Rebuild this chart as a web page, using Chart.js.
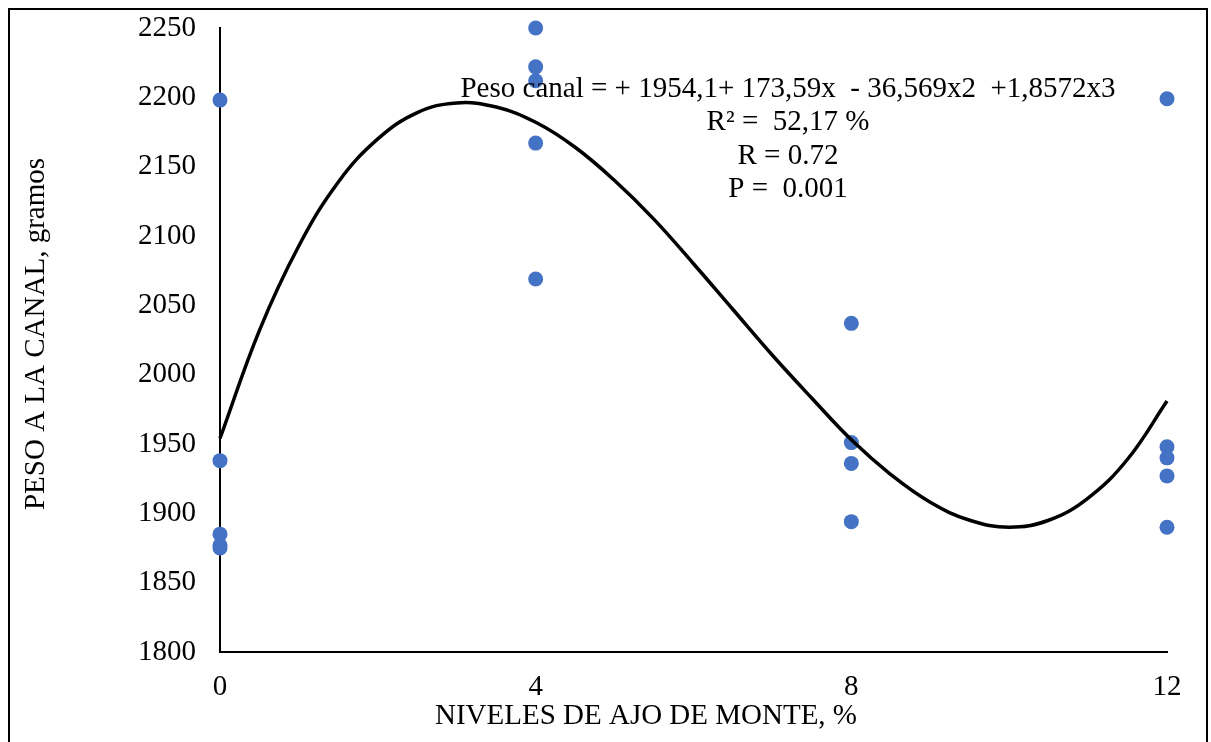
<!DOCTYPE html>
<html>
<head>
<meta charset="utf-8">
<script src="https://cdn.jsdelivr.net/npm/chart.js@4"></script>
<style>
  html, body { margin: 0; padding: 0; background: #fff; }
  #wrap { width: 1211px; height: 742px; position: relative; }
</style>
</head>
<body>
<div id="wrap"><canvas id="c" width="1211" height="742"></canvas></div>
<script>
// Observed values (x = nivel de ajo de monte, %; y = peso a la canal, g)
const obsX = [0, 0, 0, 0, 0, 4, 4, 4, 4, 4, 8, 8, 8, 8, 12, 12, 12, 12, 12];
const obsY = [2198, 1938, 1885, 1877, 1875, 2250, 2222, 2212, 2167, 2069, 2037, 1951, 1936, 1894, 2199, 1948, 1940, 1927, 1890];

// Fitted curve
const curveX = [0, 0.5, 1, 1.5, 2, 2.5, 3, 3.5, 4, 4.5, 5, 5.5, 6, 6.5, 7, 7.5, 8, 8.5, 9, 9.5, 10, 10.5, 11, 11.5, 12];
const curveY = [1954, 2032, 2093, 2139, 2170, 2189, 2196, 2193, 2182, 2164, 2140, 2112, 2080, 2047, 2014, 1983, 1953, 1928, 1908, 1895, 1890, 1895, 1911, 1939, 1981];

const xTicks = [0, 4, 8, 12];
const yTicks = [1800, 1850, 1900, 1950, 2000, 2050, 2100, 2150, 2200, 2250];

const xTitle = 'NIVELES DE AJO DE MONTE, %';
const yTitle = 'PESO A LA CANAL, gramos';
const noteLines = [
  'Peso canal = + 1954,1+ 173,59x  - 36,569x2  +1,8572x3',
  'R\u00B2 =  52,17 %',
  'R = 0.72',
  'P =  0.001'
];

const FONT = '"Liberation Serif", "Times New Roman", serif';

const overlay = {
  id: 'overlay',
  beforeDraw(chart) {
    const ctx = chart.ctx;
    ctx.save();
    ctx.fillStyle = '#fff';
    ctx.fillRect(0, 0, chart.width, chart.height);
    ctx.restore();
  },
  afterDraw(chart) {
    const ctx = chart.ctx;
    ctx.save();
    // outer frame
    ctx.strokeStyle = '#000';
    ctx.lineWidth = 2;
    ctx.strokeRect(9, 9, 1198, 745);
    ctx.fillStyle = '#000';
    ctx.textAlign = 'center';
    ctx.textBaseline = 'middle';
    // axis titles
    ctx.font = '29px ' + FONT;
    ctx.fillText(xTitle, 646, 716);
    ctx.save();
    ctx.translate(36, 334);
    ctx.rotate(-Math.PI / 2);
    ctx.fillText(yTitle, 0, 0);
    ctx.restore();
    // equation annotation
    ctx.font = '29px ' + FONT;
    const ys = [89, 122, 156, 189];
    noteLines.forEach((t, i) => ctx.fillText(t, 788, ys[i]));
    ctx.restore();
  }
};

new Chart(document.getElementById('c'), {
  type: 'scatter',
  data: {
    datasets: [
      {
        label: 'Observado',
        data: obsX.map((x, i) => ({ x: x, y: obsY[i] })),
        backgroundColor: '#4472C4',
        borderColor: '#4472C4',
        pointRadius: 7.5,
        pointHoverRadius: 7.5,
        borderWidth: 0,
        clip: false,
        order: 2
      },
      {
        label: 'Ajuste',
        data: curveX.map((x, i) => ({ x: x, y: curveY[i] })),
        showLine: true,
        tension: 0.4,
        borderColor: '#000',
        borderWidth: 3.5,
        pointRadius: 0,
        pointHoverRadius: 0,
        fill: false,
        clip: false,
        order: 1
      }
    ]
  },
  options: {
    responsive: false,
    animation: false,
    events: [],
    layout: { padding: { left: 0, top: 28, right: 44, bottom: 0 } },
    plugins: {
      legend: { display: false },
      tooltip: { enabled: false }
    },
    scales: {
      x: {
        type: 'linear',
        min: 0,
        max: 12,
        afterBuildTicks: s => { s.ticks = xTicks.map(v => ({ value: v })); },
        afterFit: s => { s.height = 90; s.paddingLeft = 0; s.paddingRight = 0; },
        grid: { display: false, drawTicks: false },
        border: { display: true, color: '#000', width: 2 },
        ticks: { color: '#000', font: { family: FONT, size: 29 }, padding: 18, maxRotation: 0,
                 callback: v => String(v) }
      },
      y: {
        type: 'linear',
        min: 1800,
        max: 2250,
        afterBuildTicks: s => { s.ticks = yTicks.map(v => ({ value: v })); },
        afterFit: s => { s.width = 220; s.paddingTop = 0; s.paddingBottom = 0; },
        grid: { display: false, drawTicks: false },
        border: { display: true, color: '#000', width: 2 },
        ticks: { color: '#000', font: { family: FONT, size: 29 }, padding: 24,
                 callback: v => String(v) }
      }
    }
  },
  plugins: [overlay]
});
</script>
</body>
</html>
